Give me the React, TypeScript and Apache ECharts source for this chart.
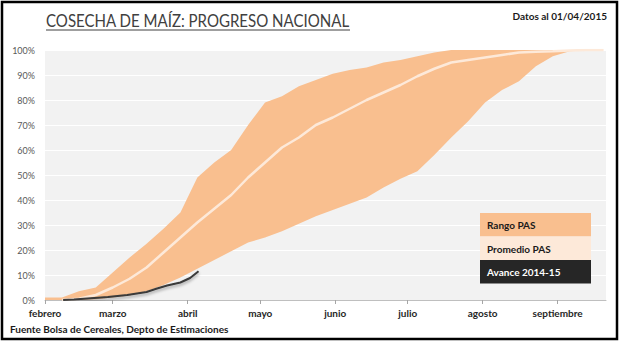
import React, { useEffect, useRef } from "react";
import * as echarts from "echarts";

// Days counted from 1 February 2015 (weekly points)
const weekDays = [0, 7, 14, 21, 28, 35, 42, 49, 56, 63, 70, 77, 84, 91, 98, 105, 112, 119, 126, 133, 140, 147, 154, 161, 168, 175, 182, 189, 196, 203, 210, 217, 224, 231];
const rangoMax = [1, 1, 3.5, 5, 11, 17, 22.5, 28.5, 35, 49, 55, 60, 70, 79, 81.5, 85.5, 88, 90.5, 92, 93, 95, 96, 97.5, 99, 100, 100, 100, 100, 100, 100, 100, 100, 100, 100];
const rangoMin = [0, 0, 0, 0.3, 1, 1.8, 3.5, 6, 9, 12.5, 16, 19.5, 23, 25, 27.5, 30.5, 33.5, 36, 38.5, 41, 45, 48.5, 51.5, 58, 65, 71.5, 79, 84, 87.5, 93.5, 97.5, 99.5, 100, 100];
const promedio = [null, 0, 0.5, 2, 5, 8.5, 13, 19, 25, 31, 36.5, 42, 49, 55, 61, 65, 70, 73, 76.5, 80, 83, 86, 89.5, 92.5, 95, 96, 97, 98, 99, 99.3, 99.5, 99.8, 100, 100];

const avanceDays = [7.5, 12, 19, 26, 34, 42, 46, 50.5, 56, 60, 63.5];
const avance = [0, 0.2, 0.7, 1.2, 2, 3.2, 4.5, 5.8, 7, 8.8, 11.5];

// Month starts (days from 1 February) and labels
const monthDays = [0, 28, 59, 89, 120, 150, 181, 212];
const monthNames = ["febrero", "marzo", "abril", "mayo", "junio", "julio", "agosto", "septiembre"];

const legendItems = ["Rango PAS", "Promedio PAS", "Avance 2014-15"];

const FONT = "Lato, 'Open Sans', sans-serif";

export default function App() {
  const ref = useRef<HTMLDivElement>(null);

  useEffect(() => {
    if (!ref.current) return;
    const chart = echarts.init(ref.current, null, { renderer: "svg" });

    const promData = weekDays
      .map((d, i) => [d, promedio[i]])
      .filter((p) => p[1] !== null);
    const avData = avanceDays.map((d, i) => [d, avance[i]]);
    const bandData = weekDays.map((d, i) => [d, rangoMin[i], rangoMax[i]]);

    const legendColors = ["#f9bf8f", "#fde9d9", "#262626"];
    const legendText = ["#1a1a1a", "#1a1a1a", "#ffffff"];

    chart.setOption({
      animation: false,
      grid: {
        left: 45,
        right: 16,
        top: 50,
        bottom: 44,
        show: true,
        backgroundColor: "#f2f2f2",
        borderWidth: 0,
      },
      xAxis: {
        type: "value",
        min: 0,
        max: 232,
        splitLine: { show: false },
        axisLine: { show: true, lineStyle: { color: "#bfbfbf", width: 1 } },
        axisTick: {
          show: true,
          length: 4,
          lineStyle: { color: "#a6a6a6" },
          customValues: monthDays,
        },
        axisLabel: {
          customValues: monthDays,
          formatter: (v: number) => monthNames[monthDays.indexOf(Math.round(v))] ?? "",
          fontFamily: FONT,
          fontWeight: "bold",
          fontSize: 10,
          color: "#262626",
          margin: 8,
        },
      },
      yAxis: {
        type: "value",
        min: 0,
        max: 100,
        interval: 10,
        axisLine: { show: false },
        axisTick: { show: false },
        splitLine: { show: true, lineStyle: { color: "#ffffff", width: 1 } },
        axisLabel: {
          formatter: "{value}%",
          fontFamily: FONT,
          fontSize: 9,
          color: "#595959",
          margin: 10,
        },
      },
      series: [
        {
          name: "Rango PAS",
          type: "custom",
          data: bandData,
          encode: { x: 0, y: [1, 2] },
          silent: true,
          renderItem: (params: any, api: any) => {
            if (params.dataIndex !== 0) return null;
            const upper = bandData.map((p) => api.coord([p[0], p[2]]));
            const lower = bandData.map((p) => api.coord([p[0], p[1]])).reverse();
            return {
              type: "polygon",
              shape: { points: upper.concat(lower) },
              style: { fill: "#f9bf8f" },
            };
          },
        },
        {
          name: "Promedio PAS",
          type: "line",
          data: promData,
          symbol: "none",
          lineStyle: { color: "#fde9d9", width: 2.5 },
        },
        {
          name: "Avance 2014-15",
          type: "line",
          data: avData,
          symbol: "none",
          lineStyle: {
            color: "#3a3a3a",
            width: 2,
            shadowColor: "rgba(0,0,0,0.35)",
            shadowBlur: 3,
            shadowOffsetY: 2,
          },
        },
      ],
      graphic: [
        {
          type: "rect",
          shape: { x: 2, y: 2, width: 615, height: 337 },
          style: { fill: "none", stroke: "#000000", lineWidth: 2.5 },
          z: 100,
        },
        {
          type: "text",
          x: 46,
          y: 20,
          scaleX: 0.885,
          style: {
            text: "COSECHA DE MAÍZ: PROGRESO NACIONAL",
            font: `17px ${FONT}`,
            fill: "#404040",
            textVerticalAlign: "middle",
          },
        },
        {
          type: "line",
          shape: { x1: 46, y1: 30, x2: 350, y2: 30 },
          style: { stroke: "#7f7f7f", lineWidth: 1.5 },
        },
        {
          type: "text",
          x: 607,
          y: 16,
          style: {
            text: "Datos al 01/04/2015",
            font: `bold 10px ${FONT}`,
            fill: "#1a1a1a",
            textAlign: "right",
            textVerticalAlign: "middle",
          },
        },
        {
          type: "text",
          x: 10,
          y: 329,
          style: {
            text: "Fuente Bolsa de Cereales, Depto de Estimaciones",
            font: `bold 10px ${FONT}`,
            fill: "#1a1a1a",
            textVerticalAlign: "middle",
          },
        },
        ...legendItems.flatMap((name, i) => [
          {
            type: "rect",
            shape: { x: 480, y: 213 + i * 23.5, width: 111, height: 23.5 },
            style: { fill: legendColors[i] },
            z: 50,
          },
          {
            type: "text",
            x: 487,
            y: 225 + i * 23.5,
            style: {
              text: name,
              font: `bold 10px ${FONT}`,
              fill: legendText[i],
              textVerticalAlign: "middle",
            },
            z: 51,
          },
        ]),
      ],
    });

    return () => chart.dispose();
  }, []);

  return (
    <div
      ref={ref}
      style={{ position: "fixed", left: 0, top: 0, width: 622, height: 344, background: "#ffffff" }}
    />
  );
}
